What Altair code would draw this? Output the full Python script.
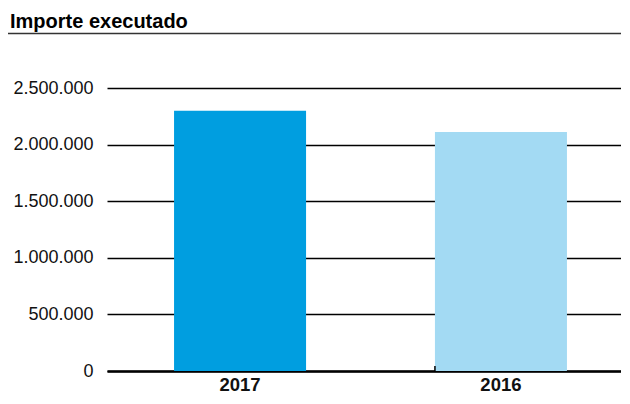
import altair as alt
import pandas as pd

years = ["2017", "2016"]
values = [2298000, 2112000]
colors = ["#009EE0", "#A3DAF3"]
title_text = "Importe executado"

df = pd.DataFrame({"year": years, "value": values, "color": colors})
tick_df = pd.DataFrame({"year": [years[1]]})

W, H = 514, 283

x_scale = alt.Scale(domain=years, range=[0, 527], paddingInner=0.494, paddingOuter=0.257)
y_scale = alt.Scale(domain=[0, 2500000], nice=False)

x_axis = alt.Axis(title=None, ticks=False, labelAngle=0, labelPadding=4,
                  labelFontSize=18.5, labelFontWeight="bold", labelColor="#111",
                  labelFont="Liberation Sans",
                  domainColor="black", domainWidth=2.5, grid=False)

bars = alt.Chart(df).mark_bar().encode(
    x=alt.X("year:N", sort=None, scale=x_scale, axis=x_axis),
    y=alt.Y("value:Q", scale=y_scale,
            axis=alt.Axis(title=None, values=[0, 500000, 1000000, 1500000, 2000000, 2500000],
                          format=",d", ticks=False, domain=False, labelPadding=14,
                          labelFontSize=18, labelColor="#111", labelFont="Liberation Sans",
                          grid=True, gridColor="black", gridWidth=1.3)),
    color=alt.Color("color:N", scale=None),
)

tick = alt.Chart(tick_df).mark_rule(color="black", strokeWidth=1.5).encode(
    x=alt.X("year:N", sort=None, scale=x_scale, bandPosition=0, axis=x_axis),
    y=alt.value(H),
    y2=alt.value(H - 5),
)

top_rule = alt.Chart(tick_df).mark_rule(color="#333", strokeWidth=1.5).encode(
    x=alt.value(-99), x2=alt.value(W), y=alt.value(-54.5)
)

chart = alt.layer(bars, tick, top_rule).properties(
    width=W, height=H,
    autosize=alt.AutoSizeParams(type="none"),
    padding={"left": 99, "top": 80, "right": 0, "bottom": 25},
    title=alt.TitleParams(title_text, anchor="start", frame="group", dx=-97, offset=1,
                          fontSize=20, fontWeight=900, font="Liberation Sans", color="black"),
).configure(
    view=alt.ViewConfig(stroke=None),
    locale=alt.Locale(number=alt.NumberLocale(decimal=",", thousands=".", grouping=[3],
                                              currency=["", " €"])),
)

chart.save("out.html", embed_options={"renderer": "svg", "actions": False})
